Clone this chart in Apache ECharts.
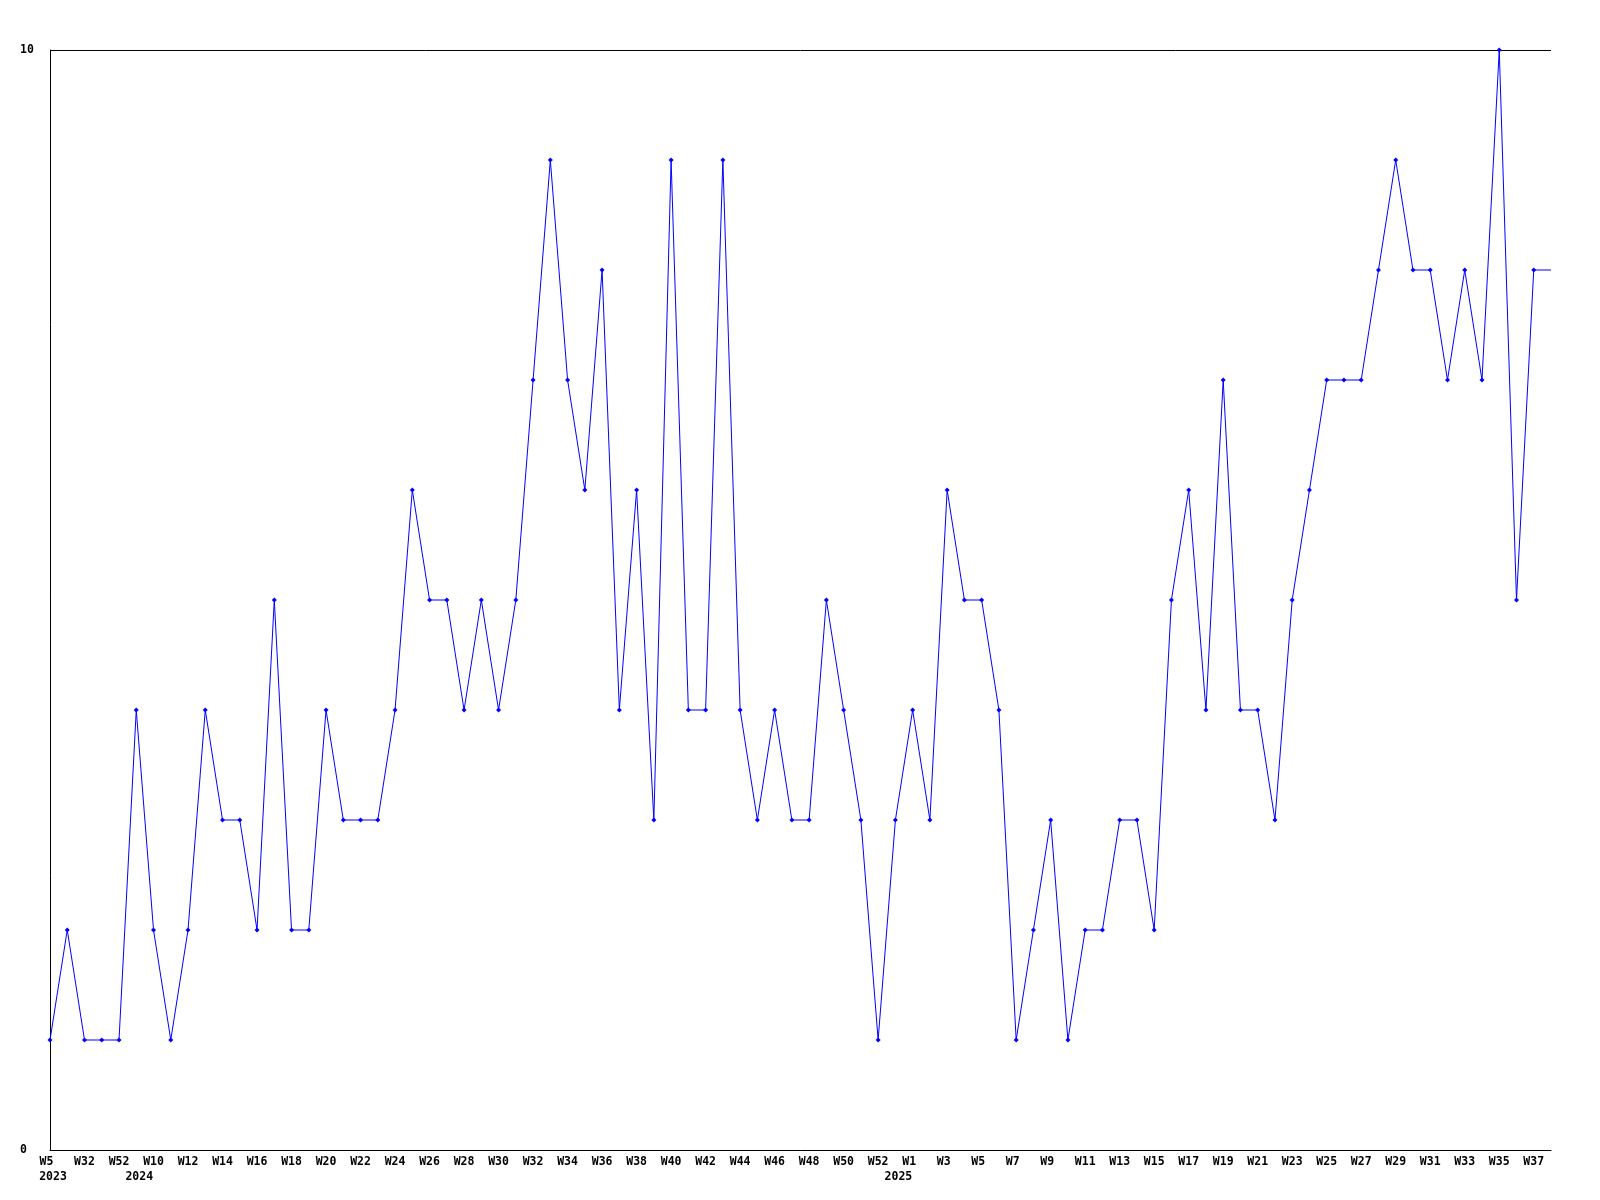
<!DOCTYPE html>
<html>
<head>
<meta charset="utf-8">
<script src="https://cdn.jsdelivr.net/npm/echarts@6/dist/echarts.min.js"></script>
<style>
  html, body { margin: 0; padding: 0; background: #ffffff; }
  #chart { width: 1600px; height: 1200px; }
</style>
</head>
<body>
<div id="chart"></div>
<script>
// Week tick labels (shown on every second point); '' = point without a week label
const weekLabels = [
  'W5','','W32','','W52','','W10','','W12','','W14','','W16','','W18','','W20','','W22','',
  'W24','','W26','','W28','','W30','','W32','','W34','','W36','','W38','','W40','','W42','',
  'W44','','W46','','W48','','W50','','W52','','W1','','W3','','W5','','W7','','W9','',
  'W11','','W13','','W15','','W17','','W19','','W21','','W23','','W25','','W27','','W29','',
  'W31','','W33','','W35','','W37',''
];
// Year labels and the point index where each year starts
const yearTicks = [0, 5, 49];
const yearNames = ['2023', '2024', '2025'];

// Weekly values
const values = [
  1,2,1,1,1,4,2,1,2,4,
  3,3,2,5,2,2,4,3,3,3,
  4,6,5,5,4,5,4,5,7,9,
  7,6,8,4,6,3,9,4,4,9,
  4,3,4,3,3,5,4,3,1,3,
  4,3,6,5,5,4,1,2,3,1,
  2,2,3,3,2,5,6,4,7,4,
  4,3,5,6,7,7,7,8,9,8,
  8,7,8,7,10,5,8
];

// Y axis range (tick labels 0 and 10)
const yMin = 0, yMax = 10;

// Build category list: one slot per point plus the trailing edge slot
const categories = weekLabels.map(function (w, i) { return String(i); });
const mainData = values.slice();
// extension of the last value to the right edge of the plot
const extData = categories.map(function (c, i) {
  if (i === values.length - 1 || i === values.length) return values[values.length - 1];
  return null;
});

const FONT = 'DejaVu Sans Mono';
const FS = 11.5;
const chart = echarts.init(document.getElementById('chart'), null, { renderer: 'canvas' });
chart.setOption({
  backgroundColor: '#ffffff',
  animation: false,
  grid: { left: 50, right: 49, top: 50, bottom: 50, containLabel: false },
  xAxis: {
    type: 'category',
    data: categories,
    boundaryGap: false,
    axisLine: { show: true, lineStyle: { color: '#000000', width: 1 } },
    axisTick: { show: false },
    splitLine: { show: false },
    axisLabel: {
      interval: 0,
      margin: 5,
      color: '#000000',
      fontFamily: FONT,
      fontWeight: 'bold',
      fontSize: FS,
      formatter: function (v, i) {
        const w = weekLabels[i] || '';
        const yi = yearTicks.indexOf(i);
        const y = yi >= 0 ? yearNames[yi] : '';
        if (!w && !y) return '';
        let s = '{w|' + (w ? w.padEnd(3, ' ') : ' ') + '}';
        if (y) s += '\n{y|' + y + '}';
        return s;
      },
      rich: {
        w: { fontFamily: FONT, fontWeight: 'bold', fontSize: FS, lineHeight: 14.5, color: '#000000' },
        y: { fontFamily: FONT, fontWeight: 'bold', fontSize: FS, lineHeight: 14.5, color: '#000000', padding: [0, 0, 0, 6] }
      }
    }
  },
  yAxis: {
    type: 'value',
    min: yMin,
    max: yMax,
    interval: 10,
    axisLine: { show: true, lineStyle: { color: '#000000', width: 1 } },
    axisTick: { show: false },
    splitLine: { show: true, lineStyle: { color: '#000000', width: 1 } },
    axisLabel: {
      margin: 30,
      align: 'left',
      color: '#000000',
      fontFamily: FONT,
      fontWeight: 'bold',
      fontSize: FS
    }
  },
  series: [
    {
      type: 'line',
      data: mainData,
      symbol: 'diamond',
      symbolSize: 5,
      showAllSymbol: true,
      lineStyle: { color: '#0000ff', width: 1 },
      itemStyle: { color: '#0000ff' },
      z: 3
    },
    {
      type: 'line',
      data: extData,
      showSymbol: false,
      symbol: 'none',
      lineStyle: { color: '#0000ff', width: 1 },
      z: 2
    }
  ]
});
</script>
</body>
</html>
